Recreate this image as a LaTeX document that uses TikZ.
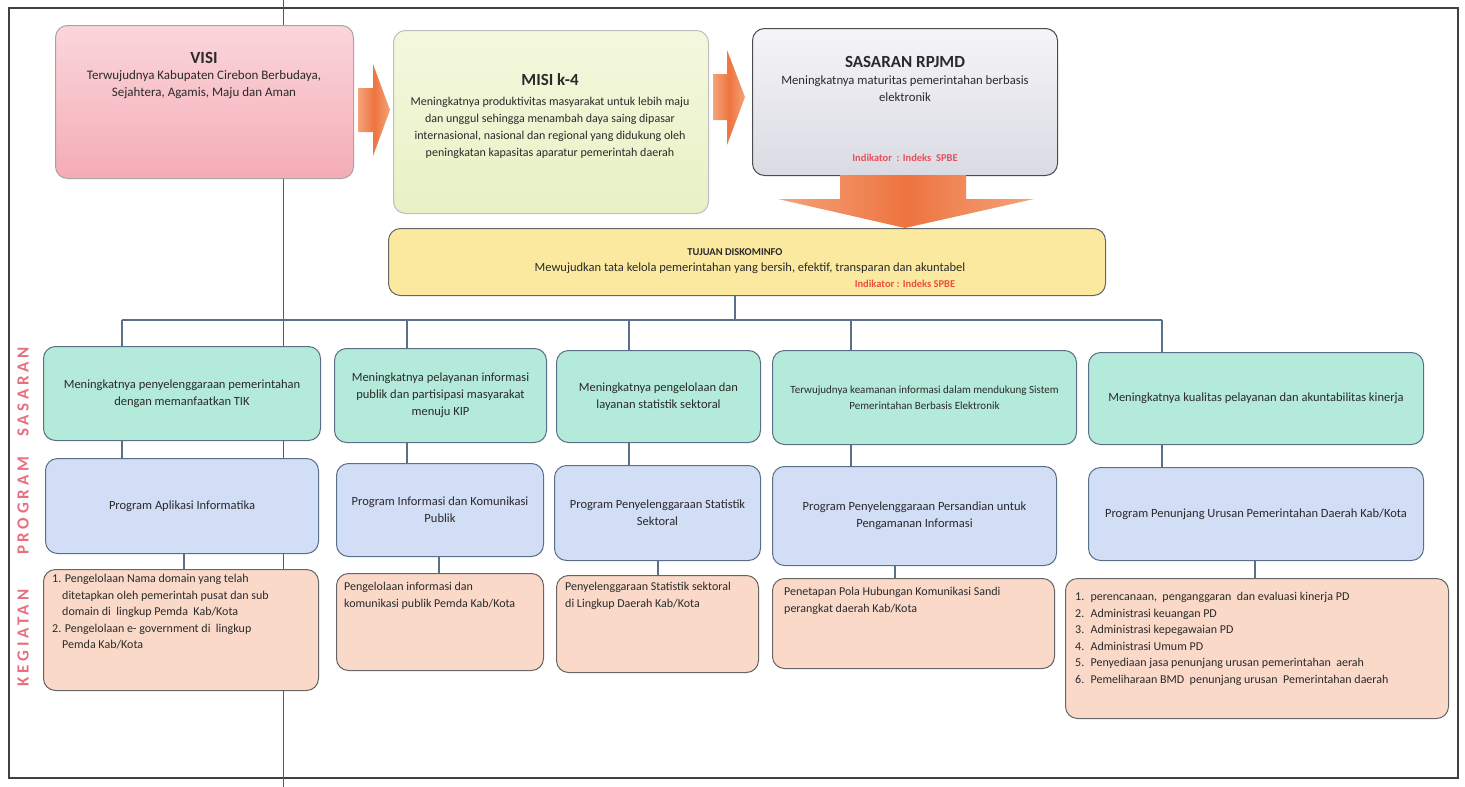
\documentclass[tikz,border=0pt]{standalone}
\usepackage{fontspec}
\setmainfont{Carlito}
\begin{document}
\begin{tikzpicture}[x=1pt,y=-1pt,
  bx/.style={draw=#1, line width=1pt, rounded corners=12pt, inner sep=0pt},
  conn/.style={draw=conncol, line width=1.3pt},
  txt/.style={font=\fontsize{12.5}{17}\selectfont, text=txtcol, align=center, inner sep=0pt},
  ltxt/.style={font=\fontsize{12}{16.5}\selectfont, text=txtcol, align=left, inner sep=0pt, anchor=north west},
  ttl/.style={font=\fontsize{17}{20}\selectfont\bfseries, text=txtcol, inner sep=0pt},
  ind/.style={font=\fontsize{10.5}{12}\selectfont\bfseries, text=indcol, inner sep=0pt},
  side/.style={font=\fontsize{17}{19}\selectfont\bfseries\addfontfeature{LetterSpace=22}, text=sidecol, rotate=90, inner sep=0pt},
  arr/.style={draw=none, left color=arrL, right color=arrL, middle color=arrM}
]
\definecolor{txtcol}{HTML}{2A2A2A}
\definecolor{conncol}{HTML}{5A7088}
\definecolor{indcol}{HTML}{E8505A}
\definecolor{sidecol}{HTML}{E8707E}
\definecolor{arrL}{HTML}{F4A37A}
\definecolor{arrM}{HTML}{EE7440}
\definecolor{sasfill}{HTML}{B4EAD9}
\definecolor{progfill}{HTML}{D2DDF6}
\definecolor{kegfill}{HTML}{FAD9C9}
\useasboundingbox (0,0) rectangle (1465,787);
\fill[white] (0,0) rectangle (1465,787);

\newcommand{\bx}[6]{%
  \pgfmathsetmacro{\bw}{#4-#2}\pgfmathsetmacro{\bh}{#5-#3}%
  \node[#6, minimum width=\bw pt, minimum height=\bh pt, anchor=north west] (#1) at (#2,#3) {};}

% frame and scan line
\draw[draw=black!75, line width=1.5pt] (9,8) rectangle (1458,778);
\draw[draw=black!65, line width=0.8pt] (283,0) -- (283,787);

% top row
\bx{visi}{55}{25}{353}{178}{bx=black!35, top color={rgb,255:red,251;green,214;blue,219}, bottom color={rgb,255:red,244;green,172;blue,182}}
\bx{misi}{393}{30}{708}{213}{bx=black!25, top color={rgb,255:red,244;green,248;blue,222}, bottom color={rgb,255:red,232;green,241;blue,196}}
\bx{rpjmd}{752}{28}{1057}{175}{bx=black!70, top color={rgb,255:red,245;green,245;blue,248}, bottom color={rgb,255:red,218;green,218;blue,228}}
\bx{tuj}{388}{228}{1105}{295}{bx=black!60, fill={rgb,255:red,252;green,233;blue,160}}

\node[ttl] (visiT) at (204,58) {VISI};
\node[txt, font=\fontsize{13}{17}\selectfont] (visiX) at (204,85) {Terwujudnya Kabupaten Cirebon Berbudaya,\\Sejahtera, Agamis, Maju dan Aman};
\node[ttl] (misiT) at (550,80) {MISI k-4};
\node[txt, font=\fontsize{12}{17}\selectfont] (misiX) at (550,128) {Meningkatnya produktivitas masyarakat untuk lebih maju\\dan unggul sehingga menambah daya saing dipasar\\internasional, nasional dan regional yang didukung oleh\\peningkatan kapasitas aparatur pemerintah daerah};
\node[ttl] (rpjmdT) at (905,62) {SASARAN RPJMD};
\node[txt, font=\fontsize{12.7}{17}\selectfont] (rpjmdX) at (905,89) {Meningkatnya maturitas pemerintahan berbasis\\elektronik};
\node[ind] (rpjmdI) at (905,158) {Indikator \ : Indeks \ SPBE};

\node[ttl, font=\fontsize{10.5}{12}\selectfont\bfseries] (tujT) at (735,252) {TUJUAN DISKOMINFO};
\node[txt] (tujX) at (750,268) {Mewujudkan tata kelola pemerintahan yang bersih, efektif, transparan dan akuntabel};
\node[ind, text={rgb,255:red,236;green,80;blue,60}] (tujI) at (905,284) {Indikator : Indeks SPBE};

% block arrows
\path[arr] (358,88) -- (373,88) -- (373,64) -- (390,110) -- (373,156) -- (373,132) -- (358,132) -- cycle;
\path[arr] (713,74) -- (727,74) -- (727,50) -- (745,97) -- (727,145) -- (727,120) -- (713,120) -- cycle;
\path[arr] (840,175) -- (966,175) -- (966,199) -- (1034,199) -- (905,228) -- (778,199) -- (840,199) -- cycle;

% sasaran
\bx{s1}{43}{346}{320}{440}{bx=conncol, fill=sasfill}
\bx{s2}{334}{348}{546}{442}{bx=conncol, fill=sasfill}
\bx{s3}{556}{350}{760}{442}{bx=conncol, fill=sasfill}
\bx{s4}{772}{350}{1076}{444}{bx=conncol, fill=sasfill}
\bx{s5}{1088}{352}{1423}{444}{bx=conncol, fill=sasfill}
% program
\bx{p1}{45}{458}{318}{553}{bx=conncol, fill=progfill}
\bx{p2}{336}{463}{543}{556}{bx=conncol, fill=progfill}
\bx{p3}{554}{465}{760}{560}{bx=conncol, fill=progfill}
\bx{p4}{772}{466}{1056}{565}{bx=conncol, fill=progfill}
\bx{p5}{1088}{467}{1423}{560}{bx=conncol, fill=progfill}
% kegiatan
\bx{k1}{43}{569}{318}{690}{bx=black!60, fill=kegfill}
\bx{k2}{336}{573}{543}{670}{bx=black!60, fill=kegfill}
\bx{k3}{556}{575}{758}{672}{bx=black!60, fill=kegfill}
\bx{k4}{772}{578}{1054}{668}{bx=black!60, fill=kegfill}
\bx{k5}{1065}{578}{1448}{718}{bx=black!60, fill=kegfill}

% connectors
\coordinate (b0) at (735,320);
\coordinate (b1) at (122,320);
\coordinate (b2) at (407,320);
\coordinate (b3) at (629,320);
\coordinate (b4) at (851,320);
\coordinate (b5) at (1162,320);
\draw[conn] (tuj.south -| b0) -- (b0);
\draw[conn] (b1) -- (b5);
\draw[conn] (b1) -- (s1.north -| b1);
\draw[conn] (b2) -- (s2.north -| b2);
\draw[conn] (b3) -- (s3.north -| b3);
\draw[conn] (b4) -- (s4.north -| b4);
\draw[conn] (b5) -- (s5.north -| b5);
\draw[conn] (s1.south -| b1) -- (p1.north -| b1);
\draw[conn] (s2.south -| b2) -- (p2.north -| b2);
\draw[conn] (s3.south -| b3) -- (p3.north -| b3);
\draw[conn] (s4.south -| b4) -- (p4.north -| b4);
\draw[conn] (s5.south -| b5) -- (p5.north -| b5);
\coordinate (c1) at (184,0);
\coordinate (c2) at (439,0);
\coordinate (c3) at (658,0);
\coordinate (c4) at (895,0);
\coordinate (c5) at (1255,0);
\draw[conn] (p1.south -| c1) -- (k1.north -| c1);
\draw[conn] (p2.south -| c2) -- (k2.north -| c2);
\draw[conn] (p3.south -| c3) -- (k3.north -| c3);
\draw[conn] (p4.south -| c4) -- (k4.north -| c4);
\draw[conn] (p5.south -| c5) -- (k5.north -| c5);

% side labels
\node[side] (lsas) at (23,392) {SASARAN};
\node[side] (lprog) at (23,506) {PROGRAM};
\node[side] (lkeg) at (23,638) {KEGIATAN};

% sasaran texts
\node[txt] (s1t) at (s1) {Meningkatnya penyelenggaraan pemerintahan\\dengan memanfaatkan TIK};
\node[txt] (s2t) at (s2) {Meningkatnya pelayanan informasi\\publik dan partisipasi masyarakat\\menuju KIP};
\node[txt] (s3t) at (s3) {Meningkatnya pengelolaan dan\\layanan statistik sektoral};
\node[txt, font=\fontsize{11}{16}\selectfont] (s4t) at (s4) {Terwujudnya keamanan informasi dalam mendukung Sistem\\Pemerintahan Berbasis Elektronik};
\node[txt] (s5t) at (s5) {Meningkatnya kualitas pelayanan dan akuntabilitas kinerja};
% program texts
\node[txt] (p1t) at (p1) {Program Aplikasi Informatika};
\node[txt] (p2t) at (p2) {Program Informasi dan Komunikasi\\Publik};
\node[txt] (p3t) at (p3) {Program Penyelenggaraan Statistik\\Sektoral};
\node[txt] (p4t) at (p4) {Program Penyelenggaraan Persandian untuk\\Pengamanan Informasi};
\node[txt] (p5t) at (p5) {Program Penunjang Urusan Pemerintahan Daerah Kab/Kota};
% kegiatan texts
\node[ltxt] (k1t) at (52,574) {1. Pengelolaan Nama domain yang telah\\\hspace*{10pt}ditetapkan oleh pemerintah pusat dan sub\\\hspace*{10pt}domain di \ lingkup Pemda \ Kab/Kota\\2. Pengelolaan e- government di \ lingkup\\\hspace*{10pt}Pemda Kab/Kota};
\node[ltxt] (k2t) at (344,582) {Pengelolaan informasi dan\\komunikasi publik Pemda Kab/Kota};
\node[ltxt] (k3t) at (565,582) {Penyelenggaraan Statistik sektoral\\di Lingkup Daerah Kab/Kota};
\node[ltxt] (k4t) at (784,587) {Penetapan Pola Hubungan Komunikasi Sandi\\perangkat daerah Kab/Kota};
\node[ltxt] (k5t) at (1075,592) {1. \ perencanaan, \ penganggaran \ dan evaluasi kinerja PD\\2. \ Administrasi keuangan PD\\3. \ Administrasi kepegawaian PD\\4. \ Administrasi Umum PD\\5. \ Penyediaan jasa penunjang urusan pemerintahan \ aerah\\6. \ Pemeliharaan BMD \ penunjang urusan \ Pemerintahan daerah};
\end{tikzpicture}
\end{document}
